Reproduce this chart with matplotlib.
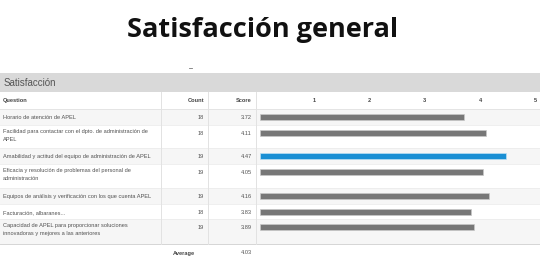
import matplotlib.pyplot as plt
from matplotlib.patches import Rectangle

questions = [
    "Horario de atención de APEL",
    "Facilidad para contactar con el dpto. de administración de\nAPEL",
    "Amabilidad y actitud del equipo de administración de APEL",
    "Eficacia y resolución de problemas del personal de\nadministración",
    "Equipos de análisis y verificación con los que cuenta APEL",
    "Facturación, albaranes...",
    "Capacidad de APEL para proporcionar soluciones\ninnovadoras y mejores a las anteriores",
]
counts = [18, 18, 19, 19, 19, 18, 19]
scores = [3.72, 4.11, 4.47, 4.05, 4.16, 3.83, 3.89]
average = 4.03
ticks = [1, 2, 3, 4, 5]
highlight = 2

# row layout in pixels (top, bottom)
rows = [(109, 125), (125, 148), (148, 164), (164, 188), (188, 204), (204, 219), (219, 244)]

plt.rcParams["font.family"] = ["Liberation Sans", "DejaVu Sans"]

W, H = 540, 272
fig = plt.figure(figsize=(W / 100, H / 100), dpi=100)
ax = fig.add_axes([0, 0, 1, 1])
ax.set_xlim(0, W)
ax.set_ylim(H, 0)
ax.axis("off")

txt = "#505050"
fs = 4.1

fig.text(263 / W, 1 - 30 / H, "Satisfacción general", ha="center", va="center",
         fontsize=19.5, fontweight="bold", family="Open Sans", color="#111111")
ax.plot([189, 192], [68, 68], color="#777777", lw=0.6)

# header band
ax.add_patch(Rectangle((0, 73), W, 19, color="#d9d9d9", lw=0))
ax.text(4, 82.5, "Satisfacción", fontsize=7, color="#555555", va="center")

# shaded rows
for i, (t, b) in enumerate(rows):
    if i % 2 == 0:
        ax.add_patch(Rectangle((0, t), W, b - t, color="#f6f6f6", lw=0))
    ax.plot([0, W], [b, b], color="#ececec", lw=0.6)
ax.plot([0, W], [109, 109], color="#e4e4e4", lw=0.7)
ax.plot([0, W], [244, 244], color="#d6d6d6", lw=0.7)

for x in [160.5, 208.3, 256.3]:
    ax.plot([x, x], [92, 244], color="#e2e2e2", lw=0.7)

# header
ax.text(3, 100.5, "Question", fontsize=fs, color="#444444", fontweight="bold", va="center")
ax.text(204, 100.5, "Count", fontsize=fs, color="#444444", fontweight="bold", va="center", ha="right")
ax.text(252, 100.5, "Score", fontsize=fs, color="#444444", fontweight="bold", va="center", ha="right")

for (t, b), q, c, s in zip(rows, questions, counts, scores):
    ytop = t + 8.5
    if "\n" in q:
        ax.text(3, t + 4, q, fontsize=fs, color=txt, va="top", linespacing=1.75)
    else:
        ax.text(3, ytop, q, fontsize=fs, color=txt, va="center")
    ax.text(204, ytop, str(c), fontsize=fs, color=txt, va="center", ha="right")
    ax.text(252, ytop, f"{s:.2f}", fontsize=fs, color=txt, va="center", ha="right")

ax.text(184, 253, "Average", fontsize=fs, color="#444444", fontweight="bold", va="center", ha="center")
ax.text(252, 253, f"{average:.2f}", fontsize=fs, color=txt, va="center", ha="right")

# bar area: x in score units, y in pixels
x0, x5 = 258.7, 535.3
bx = fig.add_axes([x0 / W, 0, (x5 - x0) / W, 1])
bx.set_xlim(0, 5)
bx.set_ylim(H, 0)
bx.axis("off")
bx.patch.set_alpha(0)

ycs = [t + 8.3 for t, b in rows]
colors = ["#1a8fd4" if i == highlight else "#777777" for i in range(len(scores))]
edges = ["#bcdff3" if i == highlight else "#c8c8c8" for i in range(len(scores))]
bx.barh(ycs, [s - 0.02 for s in scores], left=0.02, height=6.3, color=colors,
        edgecolor=edges, linewidth=0.5)

for t in ticks:
    bx.text(t, 100.5, str(t), fontsize=fs, color="#444444", fontweight="bold",
            ha="center", va="center")

fig.savefig("out.png", dpi=100)
